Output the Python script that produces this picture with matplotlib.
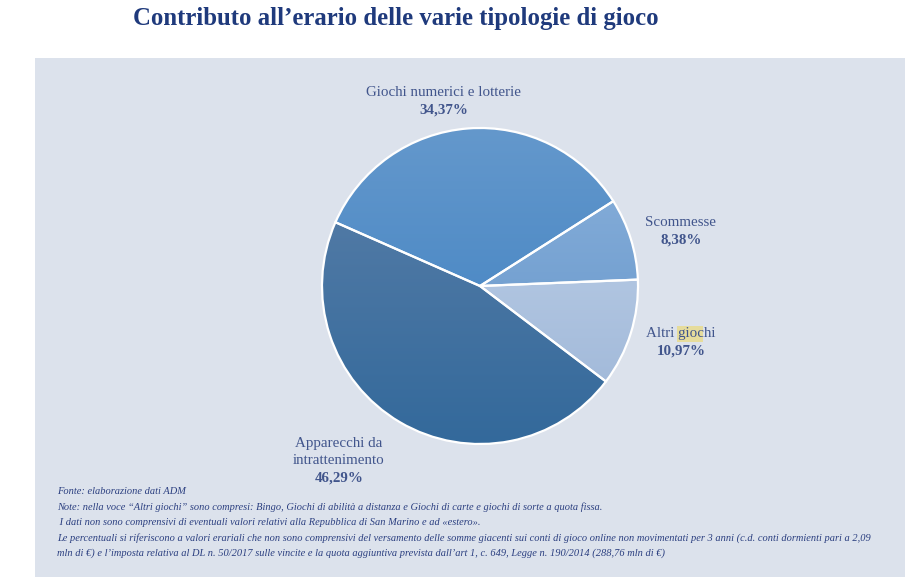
import numpy as np
import matplotlib
matplotlib.use("Agg")
import matplotlib.pyplot as plt
from matplotlib.colors import LinearSegmentedColormap
from matplotlib.patches import Rectangle

# ---- data ----
categories = ["Giochi numerici e lotterie", "Scommesse", "Altri giochi",
              "Apparecchi da\nintrattenimento"]
shares = [34.37, 8.38, 10.97, 46.29]
pct_labels = ["34,37%", "8,38%", "10,97%", "46,29%"]
title = "Contributo all\u2019erario delle varie tipologie di gioco"
notes = [
    "Fonte: elaborazione dati ADM",
    "Note: nella voce \u201cAltri giochi\u201d sono compresi: Bingo, Giochi di abilit\u00e0 a distanza e Giochi di carte e giochi di sorte a quota fissa.",
    " I dati non sono comprensivi di eventuali valori relativi alla Repubblica di San Marino e ad \u00abestero\u00bb.",
    "Le percentuali si riferiscono a valori erariali che non sono comprensivi del versamento delle somme giacenti sui conti di gioco online non movimentati per 3 anni (c.d. conti dormienti pari a 2,09",
    "mln di \u20ac) e l\u2019imposta relativa al DL n. 50/2017 sulle vincite e la quota aggiuntiva prevista dall\u2019art 1, c. 649, Legge n. 190/2014 (288,76 mln di \u20ac)",
]

# ---- styles ----
W, H = 908, 585
serif = ["Liberation Serif", "DejaVu Serif"]
grad_colors = [("#6498cc", "#3a7ec0"),
               ("#8cb2dc", "#5e91c7"),
               ("#c4d5eb", "#9bb4d6"),
               ("#5c80a9", "#33699b")]
label_color = "#41558c"
label_pos = [(444, 92), (681, 222), (681, 333), (339, 443)]

fig = plt.figure(figsize=(W / 100, H / 100), dpi=100)
fig.patch.set_facecolor("white")

# pie axes (y-up coords), drawn first
cx, cy, r = 480, 286, 158
pax = fig.add_axes([0, 0, 1, 1])
pax.set_facecolor("none")
pax.patch.set_visible(False)
wedges, _ = pax.pie(shares, center=(cx, H - cy), radius=r, startangle=156.2,
                    counterclock=False, frame=True,
                    wedgeprops=dict(edgecolor="white", linewidth=1.6))
for w, (c1, c2) in zip(wedges, grad_colors):
    cmap = LinearSegmentedColormap.from_list("g", [c2, c1])
    grad = np.linspace(0, 1, 256).reshape(-1, 1)
    im = pax.imshow(grad, cmap=cmap, origin="lower", aspect="auto",
                    extent=(cx - r, cx + r, H - cy - r, H - cy + r), zorder=1.5)
    im.set_clip_path(w)
    w.set_zorder(2)
    w.set_facecolor("none")
pax.set_xlim(0, W)
pax.set_ylim(0, H)
pax.set_aspect("auto")
pax.axis("off")
pax.set_zorder(1)

# background / text axes (y-down pixel coords)
ax = fig.add_axes([0, 0, 1, 1])
ax.set_zorder(0)
ax.set_xlim(0, W)
ax.set_ylim(H, 0)
ax.axis("off")
ax.add_patch(Rectangle((35, 58), 870, 519, facecolor="#dce2ec", edgecolor="none", zorder=0))

# overlay axes for text on top
tax = fig.add_axes([0, 0, 1, 1])
tax.set_zorder(2)
tax.patch.set_visible(False)
tax.set_xlim(0, W)
tax.set_ylim(H, 0)
tax.axis("off")

# title
tax.text(396, 18, title, ha="center", va="center", fontsize=17.8, fontweight="bold",
         color="#1f3a7c", family=serif)

# highlight on "gio"
tax.add_patch(Rectangle((677, 326), 26, 16, facecolor="#e6dc9c", edgecolor="none", zorder=1))

# labels
for cat, pct, (x, y) in zip(categories, pct_labels, label_pos):
    lines = cat.split("\n")
    for j, ln in enumerate(lines):
        tax.text(x, y + 17 * j, ln, ha="center", va="center", fontsize=10.8,
                 color=label_color, family=serif, zorder=3)
    tax.text(x, y + 17 * len(lines) + 1, pct, ha="center", va="center", fontsize=10.8,
             fontweight="bold", color=label_color, family=serif, zorder=3)

# notes
for i, line in enumerate(notes):
    tax.text(57, 492 + i * 15.3, line, ha="left", va="center", fontsize=7.5,
             style="italic", color="#2b3f80", family=serif, zorder=3)

fig.savefig("out.png", dpi=100, facecolor="white")
